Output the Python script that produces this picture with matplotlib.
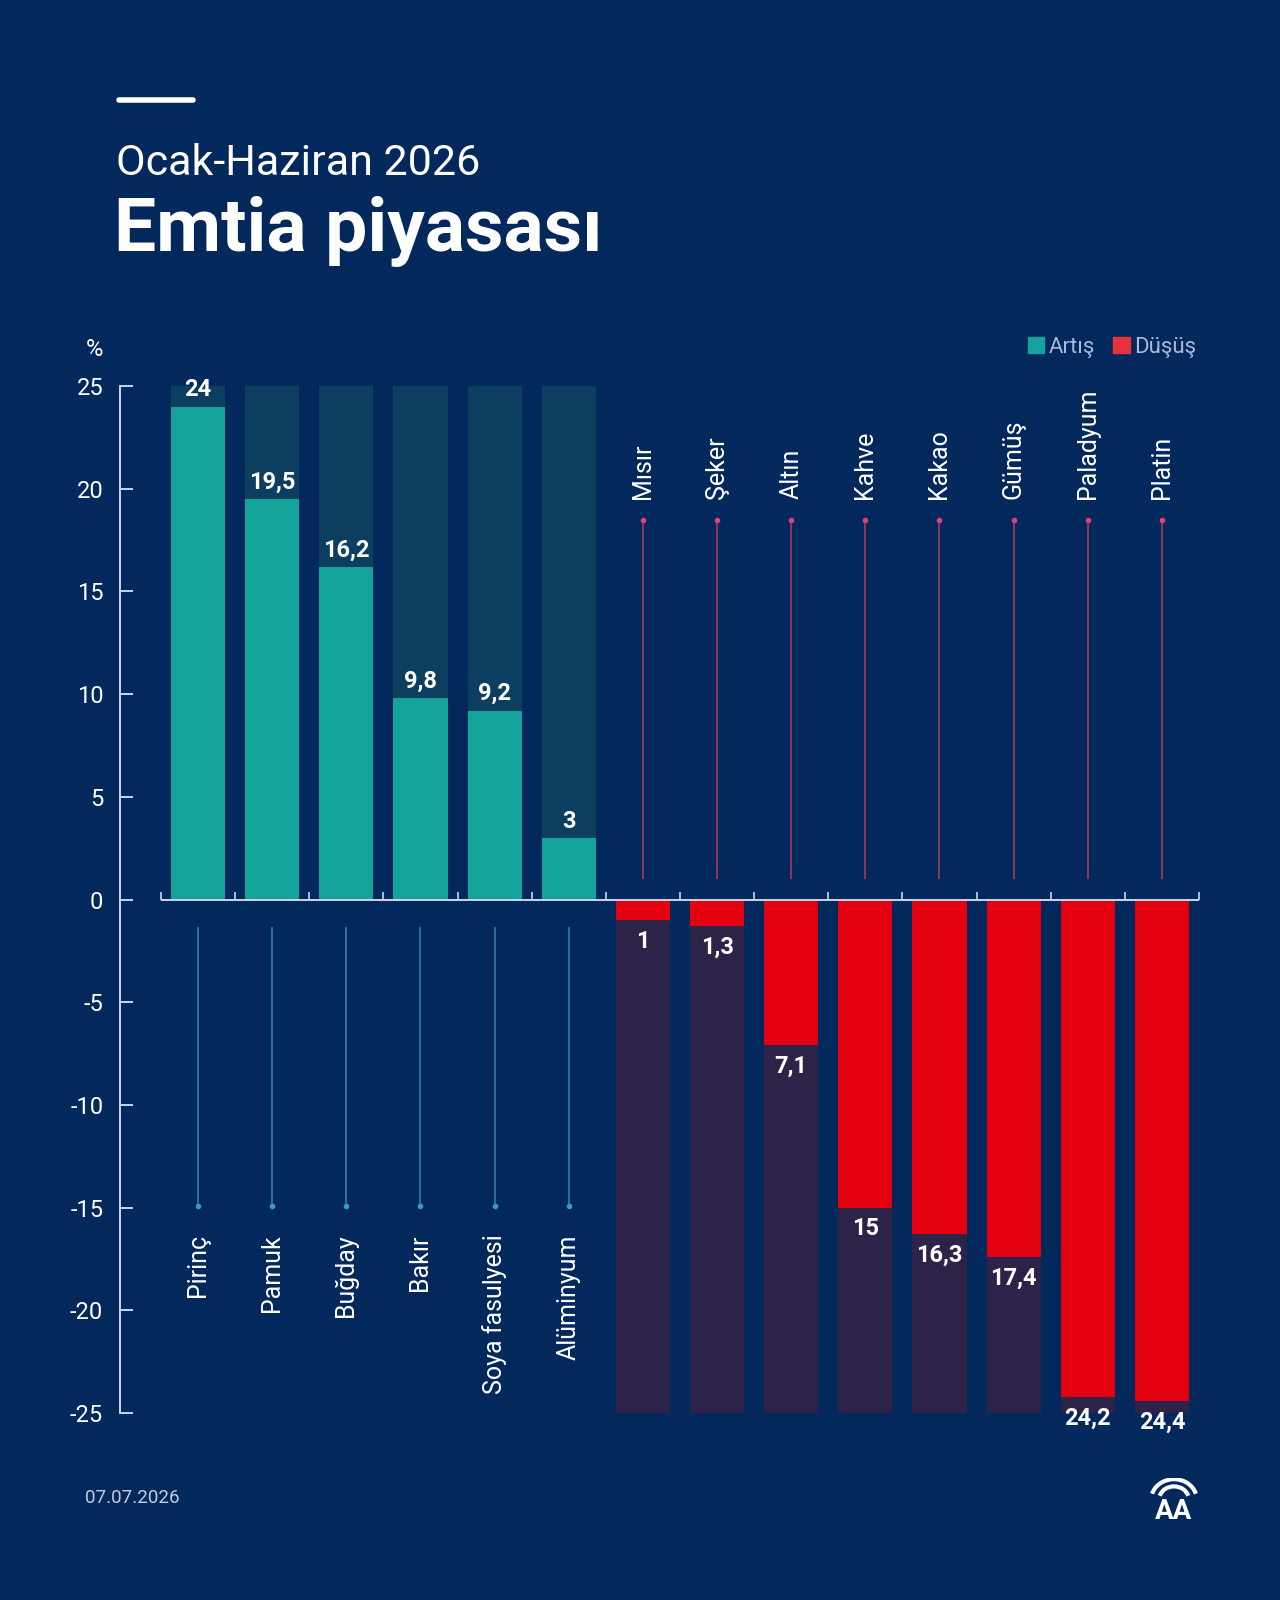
import numpy as np
import matplotlib.pyplot as plt
from matplotlib.patches import Patch, Arc
from matplotlib.lines import Line2D

plt.rcParams['font.family'] = ['Roboto', 'DejaVu Sans']

# Data (%, Ocak-Haziran 2026)
up_names = ['Pirinç', 'Pamuk', 'Buğday', 'Bakır', 'Soya fasulyesi', 'Alüminyum']
up_values = [24, 19.5, 16.2, 9.8, 9.2, 3]
down_names = ['Mısır', 'Şeker', 'Altın', 'Kahve', 'Kakao', 'Gümüş', 'Paladyum', 'Platin']
down_values = [-1, -1.3, -7.1, -15, -16.3, -17.4, -24.2, -24.4]
y_ticks = [25, 20, 15, 10, 5, 0, -5, -10, -15, -20, -25]

BG = '#03285c'
TEAL = '#14a39a'
TEAL_BG = '#0b3e5f'
RED = '#e3000f'
RED_BG = '#2d2349'
AXIS = '#c9d5ea'


def fmt(v):
    v = abs(v)
    s = f'{v:g}'
    return s.replace('.', ',')


fig = plt.figure(figsize=(12.8, 16), dpi=100, facecolor=BG)
ax = fig.add_axes([120 / 1280, 1 - 1413 / 1600, 1100 / 1280, 1027 / 1600])
ax.set_facecolor(BG)

n_up = len(up_names)
n_all = n_up + len(down_names)
x_up = np.arange(n_up)
x_down = np.arange(n_up, n_all)
w = 0.73
top, bot = max(y_ticks), min(y_ticks)

# background bars
ax.bar(x_up, [top] * n_up, width=w, color=TEAL_BG, zorder=1)
ax.bar(x_down, [bot] * len(down_names), width=w, color=RED_BG, zorder=1)
# value bars
ax.bar(x_up, up_values, width=w, color=TEAL, zorder=2)
ax.bar(x_down, down_values, width=w, color=RED, zorder=2)

# value labels
for x, v in zip(x_up, up_values):
    ax.text(x, v + 0.5, fmt(v), ha='center', va='baseline', color='white',
            fontsize=17, fontweight='bold', zorder=4)
for x, v in zip(x_down, down_values):
    ax.text(x, v - 1.35, fmt(v), ha='center', va='baseline', color='white',
            fontsize=17, fontweight='bold', zorder=4)

# leader lines and category labels
ax.vlines(x_up, -14.9, -1.35, color='#2a7fa6', lw=1.2, zorder=2)
ax.plot(x_up, [-14.9] * n_up, 'o', ms=3, color='#3a9bc0', zorder=3)
for x, name in zip(x_up, up_names):
    ax.text(x, -16.3, name, rotation=90, ha='center', va='top', color='white',
            fontsize=18)

ax.vlines(x_down, 1.0, 18.5, color='#a8395a', lw=1.2, zorder=2)
ax.plot(x_down, [18.5] * len(down_names), 'o', ms=3, color='#e0407a', zorder=3)
for x, name in zip(x_down, down_names):
    ax.text(x, 19.5, name, rotation=90, ha='center', va='bottom', color='white',
            fontsize=18)

# zero line with category boundary ticks
bounds = np.arange(-0.5, n_all, 1.0)
ax.hlines(0, -0.5, n_all - 0.5, color=AXIS, lw=1.4, zorder=5)
ax.vlines(bounds, 0, 0.35, color=AXIS, lw=1.2, zorder=5)

# axes styling
ax.set_xlim(-0.5 - 41 / 74.14, -0.5 - 41 / 74.14 + 1100 / 74.14)
ax.set_ylim(bot, top)
ax.set_yticks(y_ticks)
ax.set_yticklabels([str(t) for t in y_ticks])
ax.set_xticks([])
for s in ['top', 'right', 'bottom']:
    ax.spines[s].set_visible(False)
ax.spines['left'].set_color(AXIS)
ax.spines['left'].set_linewidth(1.4)
ax.tick_params(axis='y', direction='in', length=9, width=1.4, color=AXIS,
               labelcolor='white', labelsize=17, pad=12)

fig.text(94 / 1280, 1 - 349 / 1600, '%', ha='center', va='center',
         color='white', fontsize=17)

# legend
handles = [Patch(color=TEAL, label='Artış'), Patch(color='#e8323a', label='Düşüş')]
leg = fig.legend(handles=handles, loc='center right', ncol=2, frameon=False,
                 bbox_to_anchor=(1205 / 1280, 1 - 347 / 1600),
                 handlelength=0.75, handleheight=0.75, handletextpad=0.2,
                 columnspacing=0.8, fontsize=16, borderaxespad=0)
for t in leg.get_texts():
    t.set_color('#a9b9d8')

# title block
fig.add_artist(Line2D([119 / 1280, 193 / 1280], [1 - 100 / 1600] * 2,
                      color='white', lw=4, solid_capstyle='round'))
fig.text(116 / 1280, 1 - 175 / 1600, 'Ocak-Haziran 2026', color='white',
         fontsize=31, va='baseline', ha='left')
fig.text(114 / 1280, 1 - 251 / 1600, 'Emtia piyasası', color='white',
         fontsize=54, fontweight='bold', va='baseline', ha='left')

# footer
fig.text(85 / 1280, 1 - 1498 / 1600, '07.07.2026', color='#c0cce2',
         fontsize=13.5, va='center', ha='left')

logo = fig.add_axes([1150 / 1280, 1 - 1526 / 1600, 48 / 1280, 48 / 1600])
logo.set_xlim(0, 1)
logo.set_ylim(0, 1)
logo.axis('off')
logo.add_patch(Arc((0.5, 0.55), 0.95, 0.85, theta1=15, theta2=165, color='white', lw=3))
logo.add_patch(Arc((0.5, 0.55), 0.62, 0.55, theta1=15, theta2=165, color='white', lw=3))
logo.text(0.5, 0.3, 'AA', ha='center', va='center', color='white',
          fontsize=20, fontweight='bold')

fig.savefig('out.png', dpi=100, facecolor=BG)
